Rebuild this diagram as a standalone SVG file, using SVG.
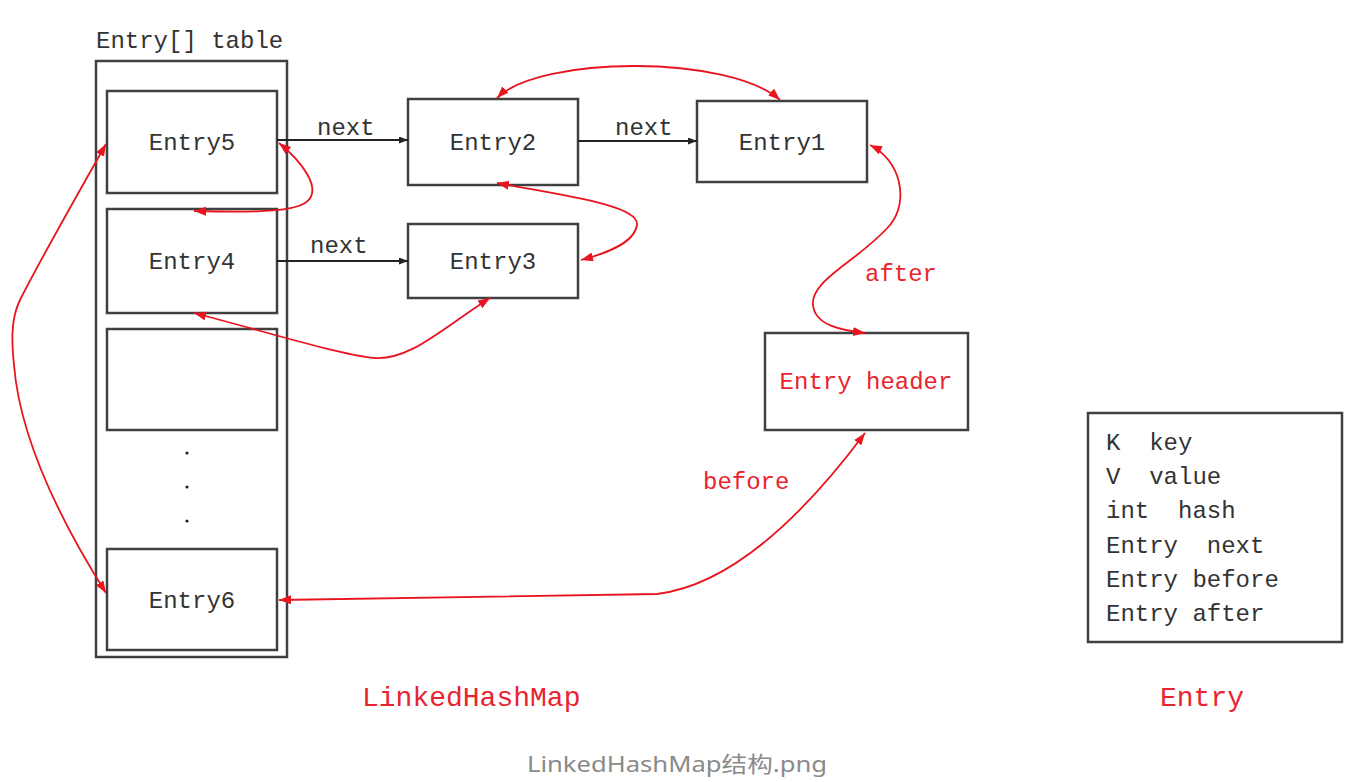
<svg xmlns="http://www.w3.org/2000/svg" width="1352" height="782" viewBox="0 0 1352 782">
<style>
.box{fill:#fff;stroke:#404040;stroke-width:2.5}
.t{font-family:"Liberation Mono",monospace;font-size:24px;fill:#333}
.r{fill:#e8242e}
.c{font-family:"Liberation Mono",monospace;font-size:28px;fill:#e8242e}
.blk{fill:none;stroke:#222;stroke-width:2;marker-end:url(#ab)}
.red{fill:none;stroke:#e8141e;stroke-width:1.8;marker-start:url(#ar);marker-end:url(#ar)}
</style>
<defs>
<marker id="ar" markerUnits="userSpaceOnUse" markerWidth="14" markerHeight="10" refX="12" refY="4.5" orient="auto-start-reverse"><path d="M0,0 L12,4.5 L0,9 z" fill="#e8141e"/></marker>
<marker id="ab" markerUnits="userSpaceOnUse" markerWidth="10" markerHeight="8" refX="9" refY="3.5" orient="auto"><path d="M0,0 L9,3.5 L0,7 z" fill="#222"/></marker>
</defs>
<rect width="1352" height="782" fill="#fff"/>
<g id="table">
<text class="t" x="96" y="48">Entry[] table</text>
<rect class="box" x="96" y="61" width="191" height="596"/>
</g>
<g id="entry5"><rect class="box" x="107" y="91" width="170" height="102"/><text class="t" x="192" y="150" text-anchor="middle">Entry5</text></g>
<g id="entry4"><rect class="box" x="107" y="209" width="170" height="104"/><text class="t" x="192" y="269" text-anchor="middle">Entry4</text></g>
<g id="empty"><rect class="box" x="107" y="329" width="170" height="101"/></g>
<g id="dots" fill="#222"><circle cx="187" cy="453" r="1.6"/><circle cx="187" cy="487" r="1.6"/><circle cx="187" cy="521" r="1.6"/></g>
<g id="entry6"><rect class="box" x="107" y="549" width="170" height="101"/><text class="t" x="192" y="608" text-anchor="middle">Entry6</text></g>
<g id="entry2"><rect class="box" x="408" y="99" width="170" height="86"/><text class="t" x="493" y="150" text-anchor="middle">Entry2</text></g>
<g id="entry1"><rect class="box" x="697" y="101" width="170" height="81"/><text class="t" x="782" y="150" text-anchor="middle">Entry1</text></g>
<g id="entry3"><rect class="box" x="408" y="224" width="170" height="74"/><text class="t" x="493" y="269" text-anchor="middle">Entry3</text></g>
<g id="header"><rect class="box" x="765" y="333" width="203" height="97"/><text class="t r" x="866" y="389" text-anchor="middle">Entry header</text></g>
<g id="entryclass"><rect class="box" x="1088" y="413" width="254" height="229"/>
<text class="t" x="1106" y="450" xml:space="preserve">K  key</text>
<text class="t" x="1106" y="484" xml:space="preserve">V  value</text>
<text class="t" x="1106" y="518" xml:space="preserve">int  hash</text>
<text class="t" x="1106" y="553" xml:space="preserve">Entry  next</text>
<text class="t" x="1106" y="587" xml:space="preserve">Entry before</text>
<text class="t" x="1106" y="621" xml:space="preserve">Entry after</text>
</g>
<g id="connectors">
<path class="blk" d="M277,140 L408,140"/>
<path class="blk" d="M578,141 L697,141"/>
<path class="blk" d="M277,261 L408,261"/>
<text class="t" x="317" y="135">next</text>
<text class="t" x="615" y="135">next</text>
<text class="t" x="310" y="253">next</text>
<path class="red" d="M497,98 C540,55 730,55 780,100"/>
<path class="red" d="M279,143 C300,160 325,190 305,203 C290,213 240,212 194,211"/>
<path class="red" d="M497,183 C560,195 640,205 637,225 C634,245 600,255 581,260"/>
<path class="red" d="M194,313 C260,330 340,355 375,358 C410,360 440,330 490,298"/>
<path class="red" d="M106,144 C80,190 40,260 20,300 C10,320 12,345 14,365 C20,440 60,520 106,593"/>
<path class="red" d="M870,145 C900,160 910,200 890,225 C860,260 810,280 813,305 C815,325 840,330 865,333"/>
<path class="red" d="M279,600 L657,594 C730,585 800,520 865,433"/>
<text class="t r" x="865" y="281">after</text>
<text class="t r" x="703" y="489">before</text>
</g>
<text class="c" x="362" y="706">LinkedHashMap</text>
<text class="c" x="1160" y="706">Entry</text>
<text x="527" y="772" font-family="'Noto Sans','Noto Sans CJK SC',sans-serif" font-size="22" fill="#8a8a8a" textLength="300" lengthAdjust="spacingAndGlyphs">LinkedHashMap结构.png</text>
</svg>
